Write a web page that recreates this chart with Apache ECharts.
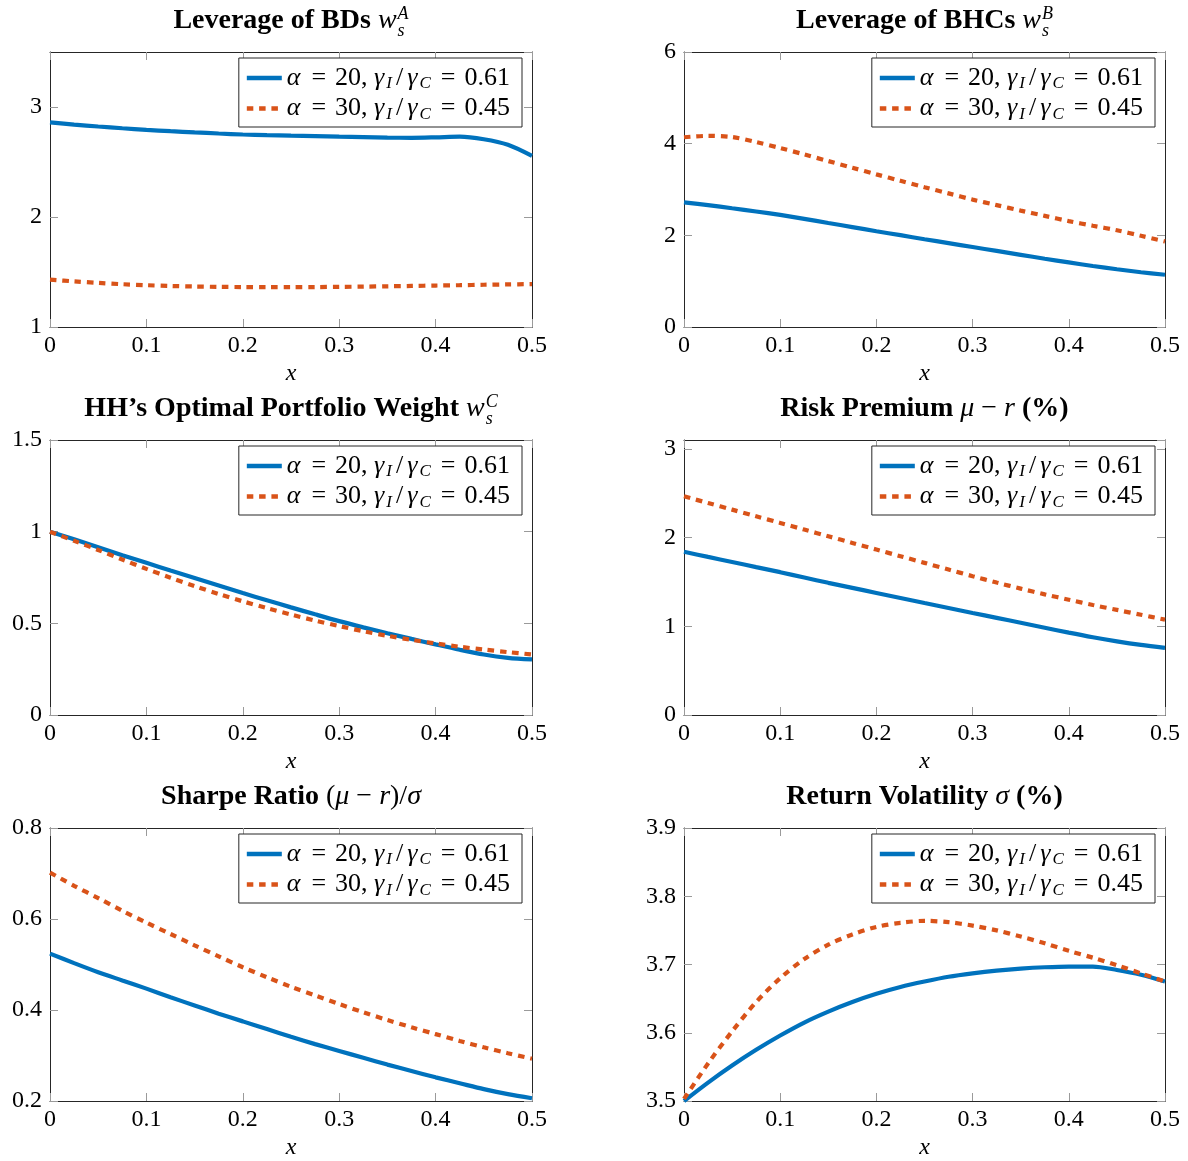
<!DOCTYPE html>
<html><head><meta charset="utf-8">
<script src="https://cdn.jsdelivr.net/npm/echarts@6/dist/echarts.min.js"></script>
<style>html,body{margin:0;padding:0;background:#fff}#c{width:1188px;height:1161px}</style>
</head><body><div id="c"></div>
<script>
// ---------------- data ----------------
const X = [0, 0.025, 0.05, 0.075, 0.1, 0.125, 0.15, 0.175, 0.2, 0.225, 0.25, 0.275, 0.3, 0.325, 0.35, 0.375, 0.4, 0.425, 0.45, 0.475, 0.5];
const seriesNames = ['a20', 'a30'];
const legendLabels = ['{m|α}{e|=}20, {m|γ}{s|I}{sl|/}{m|γ}{s|C}{e|=}0.61', '{m|α}{e|=}30, {m|γ}{s|I}{sl|/}{m|γ}{s|C}{e|=}0.45'];

const bdA20 = [2.86, 2.84, 2.823, 2.807, 2.792, 2.78, 2.769, 2.759, 2.75, 2.744, 2.739, 2.735, 2.731, 2.727, 2.722, 2.72, 2.724, 2.73, 2.707, 2.657, 2.556];
const bdA30 = [1.43, 1.415, 1.401, 1.389, 1.38, 1.373, 1.368, 1.365, 1.363, 1.362, 1.362, 1.363, 1.365, 1.367, 1.37, 1.373, 1.377, 1.38, 1.384, 1.387, 1.39];
const bhcA20 = [2.72, 2.66, 2.59, 2.52, 2.445, 2.36, 2.27, 2.18, 2.09, 2.003, 1.915, 1.83, 1.745, 1.66, 1.575, 1.49, 1.41, 1.33, 1.26, 1.195, 1.14];
const bhcA30 = [4.14, 4.17, 4.145, 4.035, 3.905, 3.765, 3.62, 3.475, 3.33, 3.19, 3.05, 2.915, 2.78, 2.66, 2.54, 2.425, 2.31, 2.21, 2.11, 1.99, 1.865];
const hhA20 = [1.0, 0.958, 0.915, 0.872, 0.83, 0.788, 0.747, 0.706, 0.665, 0.626, 0.587, 0.549, 0.512, 0.478, 0.446, 0.415, 0.385, 0.356, 0.33, 0.312, 0.303];
const hhA30 = [1.0, 0.95, 0.90, 0.848, 0.797, 0.749, 0.703, 0.66, 0.62, 0.583, 0.548, 0.515, 0.485, 0.457, 0.432, 0.41, 0.39, 0.372, 0.357, 0.343, 0.33];
const rpA20 = [1.84, 1.782, 1.725, 1.667, 1.61, 1.55, 1.49, 1.433, 1.376, 1.319, 1.262, 1.206, 1.15, 1.095, 1.04, 0.984, 0.928, 0.876, 0.83, 0.79, 0.757];
const rpA30 = [2.465, 2.39, 2.315, 2.24, 2.165, 2.09, 2.015, 1.94, 1.865, 1.79, 1.715, 1.64, 1.565, 1.493, 1.425, 1.36, 1.30, 1.24, 1.185, 1.13, 1.075];
const srA20 = [0.524, 0.503, 0.483, 0.465, 0.447, 0.428, 0.41, 0.392, 0.375, 0.358, 0.341, 0.325, 0.31, 0.295, 0.28, 0.266, 0.252, 0.239, 0.226, 0.215, 0.206];
const srA30 = [0.702, 0.673, 0.646, 0.618, 0.592, 0.567, 0.542, 0.518, 0.494, 0.472, 0.451, 0.432, 0.413, 0.395, 0.378, 0.362, 0.347, 0.332, 0.318, 0.305, 0.293];
const volA20 = [3.5, 3.527, 3.552, 3.575, 3.596, 3.615, 3.631, 3.645, 3.657, 3.667, 3.675, 3.682, 3.687, 3.691, 3.694, 3.696, 3.697, 3.697, 3.692, 3.685, 3.675];
const volA30 = [3.503, 3.555, 3.602, 3.645, 3.68, 3.708, 3.729, 3.744, 3.755, 3.761, 3.764, 3.762, 3.757, 3.75, 3.741, 3.731, 3.72, 3.71, 3.699, 3.687, 3.675];

// axis ranges [min, max, interval]
const yBD = [1, 3.5, 1];
const yBHC = [0, 6, 2];
const yHH = [0, 1.5, 0.5];
const yRP = [0, 3.1, 1];
const ySR = [0.2, 0.8, 0.2];
const yVOL = [3.5, 3.9, 0.1];
const xRange = [0, 0.5, 0.1];

// ---------------- layout / style ----------------
const FF = '"Liberation Serif", "Times New Roman", serif';
const BLUE = '#0072BD', ORANGE = '#D95319';
const colLeft = [50, 684], colWidth = [482, 481];
const rowTop = [52, 440, 828], rowHeight = 275;

const panels = [
  { a20: bdA20, a30: bdA30, y: yBD, hideMax: true,
    title: [{t: 'Leverage of BDs ', f: 'b'}, {t: 'w', f: 'i'}, {stack: ['A', 's']}] },
  { a20: bhcA20, a30: bhcA30, y: yBHC,
    title: [{t: 'Leverage of BHCs ', f: 'b'}, {t: 'w', f: 'i'}, {stack: ['B', 's']}] },
  { a20: hhA20, a30: hhA30, y: yHH,
    title: [{t: 'HH’s Optimal Portfolio Weight ', f: 'b'}, {t: 'w', f: 'i'}, {stack: ['C', 's']}] },
  { a20: rpA20, a30: rpA30, y: yRP, hideMax: true,
    title: [{t: 'Risk Premium ', f: 'b'}, {t: 'μ', f: 'i'}, {t: ' − ', f: 'r'}, {t: 'r', f: 'i'}, {t: ' (%)', f: 'b'}] },
  { a20: srA20, a30: srA30, y: ySR,
    title: [{t: 'Sharpe Ratio ', f: 'b'}, {t: '(', f: 'r'}, {t: 'μ', f: 'i'}, {t: ' − ', f: 'r'}, {t: 'r', f: 'i'}, {t: ')/', f: 'r'}, {t: 'σ', f: 'i'}] },
  { a20: volA20, a30: volA30, y: yVOL,
    title: [{t: 'Return Volatility ', f: 'b'}, {t: 'σ', f: 'i'}, {t: ' (%)', f: 'b'}] }
];

const FONTS = { b: 'bold 28px ' + FF, i: 'italic 28px ' + FF, r: '28px ' + FF, s: 'italic 18px ' + FF };
const mctx = document.createElement('canvas').getContext('2d');
function tw(text, font) { mctx.font = font; return mctx.measureText(text).width; }

function titleEls(cx, cy, parts) {
  const widths = parts.map(p => p.stack ? Math.max(tw(p.stack[0], FONTS.s), tw(p.stack[1], FONTS.s)) + 1 : tw(p.t, FONTS[p.f]));
  const total = widths.reduce((a, b) => a + b, 0);
  let x = cx - total / 2;
  const els = [];
  parts.forEach((p, i) => {
    const base = { fill: '#000', align: 'left', verticalAlign: 'middle', textAlign: 'left', textVerticalAlign: 'middle' };
    if (p.stack) {
      els.push({ type: 'text', x: x + 1, y: cy - 7, style: Object.assign({ text: p.stack[0], font: FONTS.s }, base) });
      els.push({ type: 'text', x: x + 1, y: cy + 10, style: Object.assign({ text: p.stack[1], font: FONTS.s }, base) });
    } else {
      els.push({ type: 'text', x: x, y: cy, style: Object.assign({ text: p.t, font: FONTS[p.f] }, base) });
    }
    x += widths[i];
  });
  return els;
}

const ICON_SOLID = 'path://M0,0H35V4.5H0Z';
const ICON_DASH = 'path://M0,0H6.5V4.5H0Z M12.3,0H18.8V4.5H12.3Z M24.6,0H31.1V4.5H24.6Z M34.98,2.24H35V2.26H34.98Z';

const grid = [], xAxis = [], yAxis = [], series = [], legend = [], graphic = [];
const labelStyle = { fontFamily: FF, fontSize: 24, color: '#000' };
const lineCol = '#262626', tickCol = '#9a9a9a';

panels.forEach((p, g) => {
  const col = g % 2, row = Math.floor(g / 2);
  const left = colLeft[col], top = rowTop[row], width = colWidth[col];
  grid.push({ left: left, top: top, width: width, height: rowHeight, containLabel: false });
  const tick = { show: true, inside: true, length: 8, lineStyle: { color: tickCol, width: 1 } };
  const aline = { show: true, onZero: false, lineStyle: { color: lineCol, width: 1 } };
  xAxis.push({ gridIndex: g, type: 'value', position: 'bottom', min: xRange[0], max: xRange[1], interval: xRange[2],
    axisLine: aline, axisTick: tick, splitLine: { show: false },
    axisLabel: Object.assign({ margin: 7 }, labelStyle),
    name: 'x', nameLocation: 'middle', nameGap: 35,
    nameTextStyle: { fontFamily: FF, fontSize: 24, fontStyle: 'italic', color: '#000' } });
  xAxis.push({ gridIndex: g, type: 'value', position: 'top', min: xRange[0], max: xRange[1], interval: xRange[2],
    axisLine: aline, axisTick: tick, splitLine: { show: false }, axisLabel: { show: false } });
  yAxis.push({ gridIndex: g, type: 'value', position: 'left', min: p.y[0], max: p.y[1], interval: p.y[2],
    axisLine: aline, axisTick: tick, splitLine: { show: false },
    axisLabel: Object.assign({ margin: 8, showMaxLabel: !p.hideMax }, labelStyle) });
  yAxis.push({ gridIndex: g, type: 'value', position: 'right', min: p.y[0], max: p.y[1], interval: p.y[2],
    axisLine: aline, axisTick: tick, splitLine: { show: false }, axisLabel: { show: false } });

  [['a20', p.a20, BLUE, 'solid'], ['a30', p.a30, ORANGE, [6.5, 5.8]]].forEach(([nm, vals, colr, dash]) => {
    series.push({ name: nm, type: 'line', xAxisIndex: 2 * g, yAxisIndex: 2 * g,
      data: X.map((x, i) => [x, vals[i]]), smooth: 0.3, symbol: 'none', showSymbol: false,
      lineStyle: { color: colr, width: 4.2, type: dash }, itemStyle: { color: colr }, z: nm === 'a30' ? 3 : 2 });
  });

  legend.push({ orient: 'vertical', right: 1188 - (left + width - 10), top: top + 6,
    data: [{ name: 'a20', icon: ICON_SOLID }, { name: 'a30', icon: ICON_DASH }],
    selectedMode: false, itemWidth: 35, itemHeight: 4.5, itemGap: 3,
    itemStyle: { borderWidth: 0 }, lineStyle: { width: 0 },
    padding: [7, 12, 4, 8], borderColor: lineCol, borderWidth: 1, backgroundColor: '#fff',
    formatter: name => legendLabels[seriesNames.indexOf(name)],
    textStyle: { fontFamily: FF, fontSize: 26, color: '#000',
      rich: { m: { fontFamily: FF, fontSize: 26, fontStyle: 'italic', color: '#000', padding: [0, 2, 0, 0] },
              e: { fontFamily: FF, fontSize: 26, color: '#000', padding: [0, 9, 0, 9] },
              sl: { fontFamily: FF, fontSize: 26, color: '#000', padding: [0, 4, 0, 3] },
              s: { fontFamily: FF, fontSize: 17, fontStyle: 'italic', color: '#000', padding: [12, 1, 0, 0] } } } });

  titleEls(left + width / 2, top - 31, p.title).forEach(e => graphic.push(e));
});

const chart = echarts.init(document.getElementById('c'), null, { renderer: 'canvas' });
chart.setOption({ animation: false, backgroundColor: '#fff', grid, xAxis, yAxis, series, legend, graphic });
</script></body></html>
